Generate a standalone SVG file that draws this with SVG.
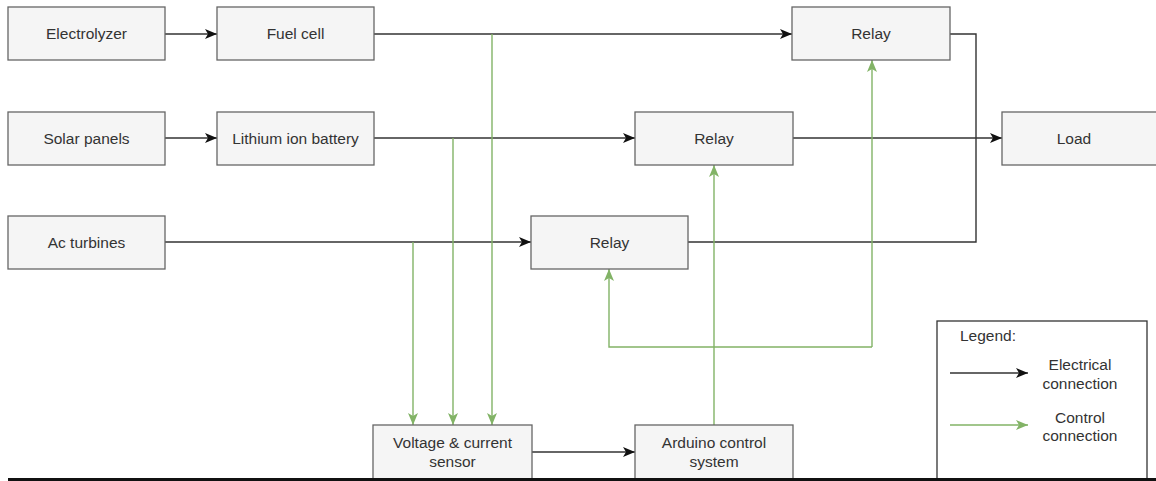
<svg xmlns="http://www.w3.org/2000/svg" width="1156" height="481" viewBox="0 0 1156 481">
  <style>
    .box { fill: #f5f5f5; stroke: #666666; stroke-width: 1.3; }
    .lbl { font-family: "Liberation Sans", Arial, sans-serif; font-size: 15.5px; fill: #333333; text-anchor: middle; }
    .elec { fill: none; stroke: #333333; stroke-width: 1.4; }
    .ctrl { fill: none; stroke: #82b366; stroke-width: 1.4; }
  </style>
  <defs>
    <marker id="arrow-black" markerUnits="userSpaceOnUse" markerWidth="14" markerHeight="12" refX="13" refY="6" orient="auto">
      <path d="M1,1 L13,6 L1,11 L4,6 Z" fill="#111111"/>
    </marker>
    <marker id="arrow-green" markerUnits="userSpaceOnUse" markerWidth="14" markerHeight="12" refX="13" refY="6" orient="auto">
      <path d="M1,1 L13,6 L1,11 L4,6 Z" fill="#82b366"/>
    </marker>
  </defs>

  <rect width="1156" height="481" fill="#ffffff"/>

  <!-- connectors -->
  <g id="connectors">
    <!-- electrical -->
    <path class="elec" d="M165,34 H217" marker-end="url(#arrow-black)"/>
    <path class="elec" d="M374,34 H792" marker-end="url(#arrow-black)"/>
    <path class="elec" d="M165,138 H217" marker-end="url(#arrow-black)"/>
    <path class="elec" d="M374,138 H635" marker-end="url(#arrow-black)"/>
    <path class="elec" d="M165,242 H531" marker-end="url(#arrow-black)"/>
    <path class="elec" d="M950,34 H976 V242 H688"/>
    <path class="elec" d="M793,138 H1002" marker-end="url(#arrow-black)"/>
    <path class="elec" d="M532,452 H635" marker-end="url(#arrow-black)"/>
    <!-- control -->
    <path class="ctrl" d="M492,34 V425" marker-end="url(#arrow-green)"/>
    <path class="ctrl" d="M453,138 V425" marker-end="url(#arrow-green)"/>
    <path class="ctrl" d="M413,242 V425" marker-end="url(#arrow-green)"/>
    <path class="ctrl" d="M714,425 V165" marker-end="url(#arrow-green)"/>
    <path class="ctrl" d="M872,347 V60" marker-end="url(#arrow-green)"/>
    <path class="ctrl" d="M872,347 H609 V269" marker-end="url(#arrow-green)"/>
  </g>

  <!-- nodes -->
  <g id="electrolyzer">
    <rect class="box" x="8" y="7" width="157" height="53"/>
    <text class="lbl" x="86.5" y="39">Electrolyzer</text>
  </g>
  <g id="fuel-cell">
    <rect class="box" x="217" y="7" width="157" height="53"/>
    <text class="lbl" x="295.5" y="39">Fuel cell</text>
  </g>
  <g id="solar-panels">
    <rect class="box" x="8" y="112" width="157" height="53"/>
    <text class="lbl" x="86.5" y="144">Solar panels</text>
  </g>
  <g id="lithium-battery">
    <rect class="box" x="217" y="112" width="157" height="53"/>
    <text class="lbl" x="295.5" y="144">Lithium ion battery</text>
  </g>
  <g id="ac-turbines">
    <rect class="box" x="8" y="216" width="157" height="53"/>
    <text class="lbl" x="86.5" y="248">Ac turbines</text>
  </g>
  <g id="relay-top">
    <rect class="box" x="792" y="7" width="158" height="53"/>
    <text class="lbl" x="871" y="39">Relay</text>
  </g>
  <g id="relay-middle">
    <rect class="box" x="635" y="112" width="158" height="53"/>
    <text class="lbl" x="714" y="144">Relay</text>
  </g>
  <g id="relay-bottom">
    <rect class="box" x="531" y="216" width="157" height="53"/>
    <text class="lbl" x="609.5" y="248">Relay</text>
  </g>
  <g id="load">
    <rect class="box" x="1002" y="112" width="160" height="53"/>
    <text class="lbl" x="1074" y="144">Load</text>
  </g>
  <g id="sensor">
    <rect class="box" x="373" y="425" width="159" height="56"/>
    <text class="lbl" x="452.5" y="448">Voltage &amp; current</text>
    <text class="lbl" x="452.5" y="467">sensor</text>
  </g>
  <g id="arduino">
    <rect class="box" x="635" y="425" width="158" height="56"/>
    <text class="lbl" x="714" y="448">Arduino control</text>
    <text class="lbl" x="714" y="467">system</text>
  </g>

  <!-- legend -->
  <g id="legend">
    <rect x="937" y="321" width="210" height="165" fill="#ffffff" stroke="#333333" stroke-width="1.3"/>
    <text class="lbl" x="960" y="341" style="text-anchor:start">Legend:</text>
    <path class="elec" d="M950,373 H1028" marker-end="url(#arrow-black)"/>
    <path class="ctrl" d="M950,425 H1028" marker-end="url(#arrow-green)"/>
    <text class="lbl" x="1080" y="369.5">Electrical</text>
    <text class="lbl" x="1080" y="388.5">connection</text>
    <text class="lbl" x="1080" y="422.5">Control</text>
    <text class="lbl" x="1080" y="441">connection</text>
  </g>

  <!-- page edge rule -->
  <rect x="8" y="478" width="1148" height="3" fill="#111111"/>
</svg>
